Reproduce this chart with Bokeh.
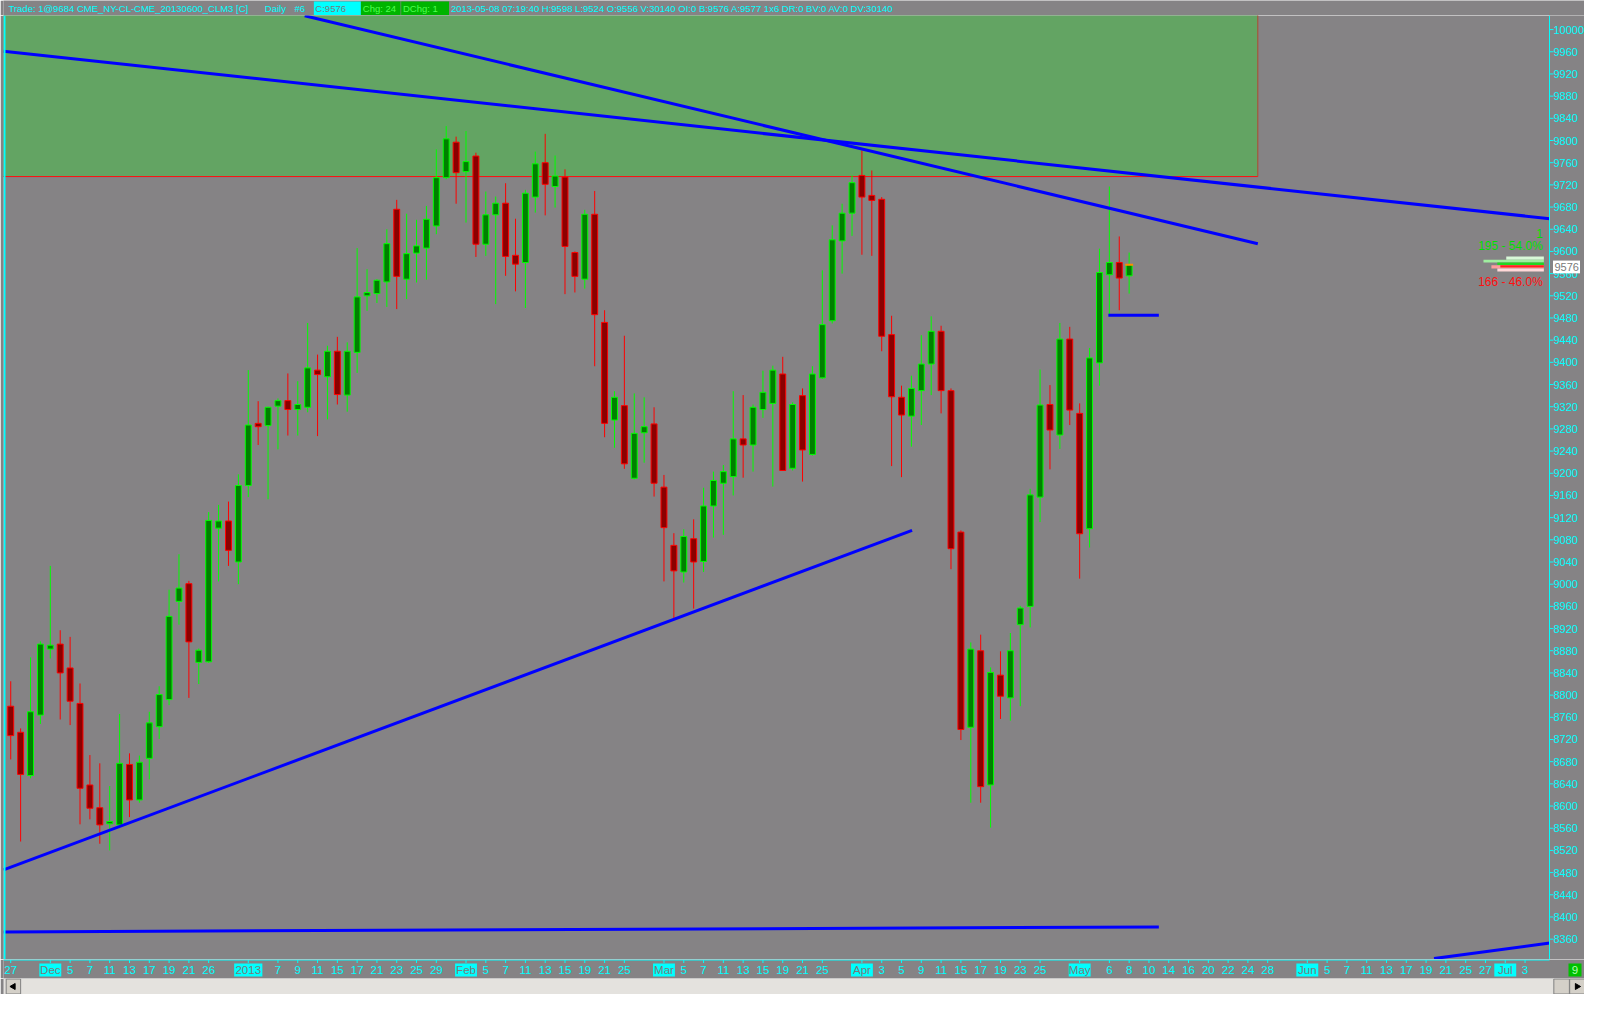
import math

from bokeh.core.properties import value
from bokeh.embed import file_html
from bokeh.layouts import column
from bokeh.models import ColumnDataSource, Range1d, Span
from bokeh.plotting import figure
from bokeh.resources import INLINE

# --- daily bars, CLM3, 2012-11-27 .. 2013-05-08 (index = trading day) ---
opens = [8780, 8733, 8655, 8764, 8883, 8892, 8849, 8785, 8638, 8597,
         8568, 8566, 8675, 8611, 8686, 8743, 8792, 8969, 9001, 8859,
         8860, 9101, 9114, 9040, 9178, 9290, 9286, 9321, 9331, 9315,
         9319, 9386, 9374, 9420, 9341, 9418, 9520, 9524, 9545, 9676,
         9550, 9597, 9606, 9646, 9733, 9797, 9744, 9772, 9613, 9666,
         9687, 9593, 9580, 9698, 9760, 9717, 9734, 9598, 9550, 9667,
         9472, 9296, 9322, 9191, 9273, 9289, 9175, 9070, 9022, 9082,
         9041, 9141, 9182, 9194, 9262, 9251, 9315, 9326, 9379, 9209,
         9340, 9234, 9372, 9475, 9619, 9669, 9737, 9701, 9694, 9450,
         9337, 9303, 9349, 9397, 9456, 9349, 9094, 8742, 8880, 8638,
         8836, 8795, 8927, 8960, 9157, 9324, 9269, 9442, 9308, 9100,
         9399, 9558, 9580, 9556]
highs = [8825, 8740, 8868, 8897, 9033, 8917, 8905, 8821, 8692, 8677,
         8636, 8766, 8695, 8691, 8770, 8816, 8990, 9054, 9006, 8884,
         9130, 9143, 9149, 9198, 9386, 9330, 9320, 9335, 9380, 9366,
         9471, 9414, 9430, 9446, 9436, 9606, 9568, 9550, 9640, 9693,
         9668, 9657, 9682, 9784, 9826, 9807, 9817, 9778, 9708, 9699,
         9723, 9659, 9711, 9780, 9812, 9773, 9748, 9600, 9675, 9709,
         9494, 9348, 9448, 9344, 9337, 9319, 9197, 9092, 9099, 9117,
         9174, 9203, 9215, 9348, 9341, 9324, 9385, 9394, 9410, 9328,
         9353, 9393, 9566, 9647, 9686, 9737, 9782, 9746, 9698, 9484,
         9358, 9376, 9449, 9483, 9466, 9353, 9097, 8895, 8909, 8850,
         8879, 8912, 8961, 9172, 9387, 9359, 9471, 9464, 9326, 9426,
         9605, 9717, 9627, 9598]
lows = [8684, 8536, 8650, 8748, 8866, 8756, 8746, 8567, 8576, 8532,
        8520, 8560, 8580, 8606, 8648, 8721, 8782, 8927, 8795, 8820,
        8858, 9005, 9033, 9000, 9157, 9251, 9153, 9243, 9268, 9268,
        9310, 9267, 9297, 9324, 9311, 9381, 9493, 9507, 9500, 9496,
        9514, 9544, 9549, 9631, 9730, 9686, 9652, 9590, 9592, 9505,
        9556, 9528, 9498, 9670, 9665, 9679, 9523, 9526, 9533, 9393,
        9265, 9246, 9208, 9189, 9219, 9158, 9005, 8937, 9003, 8956,
        9022, 9084, 9089, 9160, 9192, 9203, 9300, 9176, 9205, 9205,
        9185, 9232, 9370, 9470, 9560, 9628, 9594, 9592, 9420, 9213,
        9193, 9248, 9287, 9341, 9308, 9027, 8719, 8606, 8606, 8561,
        8757, 8754, 8780, 8922, 9112, 9207, 9244, 9287, 9010, 9066,
        9358, 9485, 9494, 9524]
closes = [8727, 8657, 8770, 8892, 8890, 8840, 8789, 8632, 8596, 8566,
          8572, 8677, 8611, 8679, 8750, 8801, 8942, 8993, 8896, 8881,
          9115, 9114, 9061, 9178, 9287, 9284, 9319, 9331, 9315, 9324,
          9390, 9378, 9420, 9342, 9420, 9518, 9526, 9548, 9614, 9555,
          9596, 9610, 9658, 9733, 9803, 9742, 9762, 9613, 9666, 9687,
          9591, 9577, 9705, 9758, 9721, 9736, 9609, 9555, 9667, 9486,
          9290, 9337, 9217, 9272, 9284, 9182, 9102, 9024, 9086, 9040,
          9141, 9187, 9203, 9262, 9251, 9319, 9346, 9386, 9205, 9324,
          9242, 9379, 9468, 9621, 9669, 9724, 9698, 9692, 9447, 9338,
          9305, 9353, 9397, 9456, 9349, 9064, 8738, 8883, 8635, 8841,
          8798, 8880, 8957, 9161, 9323, 9278, 9442, 9314, 9091, 9408,
          9562, 9580, 9552, 9576]

# date axis labels (bar index -> text), future days included
tick_pos = [0, 4, 6, 8, 10, 12, 14, 16, 18, 20, 24, 27, 29, 31, 33, 35, 37, 39, 41, 43,
            46, 48, 50, 52, 54, 56, 58, 60, 62, 66, 68, 70, 72, 74, 76, 78, 80, 82,
            86, 88, 90, 92, 94, 96, 98, 100, 102, 104, 108, 111, 113, 115, 117, 119,
            121, 123, 125, 127, 131, 133, 135, 137, 139, 141, 143, 145, 147, 149, 151, 153]
tick_text = ["27", "Dec", "5", "7", "11", "13", "17", "19", "21", "26",
             "2013", "7", "9", "11", "15", "17", "21", "23", "25", "29",
             "Feb", "5", "7", "11", "13", "15", "19", "21", "25",
             "Mar", "5", "7", "11", "13", "15", "19", "21", "25",
             "Apr", "3", "5", "9", "11", "15", "17", "19", "23", "25",
             "May", "6", "8", "10", "14", "16", "20", "22", "24", "28",
             "Jun", "5", "7", "11", "13", "17", "19", "21", "25", "27", "Jul", "3"]
month_labels = ["Dec", "2013", "Feb", "Mar", "Apr", "May", "Jun", "Jul"]
price_ticks = list(range(8360, 10001, 40))

# drawings: supply zone and trend lines (bar index, price)
zone_left, zone_right, zone_bottom, zone_top = -1.0, 126.0, 9735, 10100
line_x0 = [-0.73, 29.7, -0.73, 110.9, -0.73, 143.8]
line_y0 = [9961, 10025, 8485, 9485, 8373, 8325]
line_x1 = [155.5, 126.0, 91.07, 116.0, 116.0, 155.5]
line_y1 = [9659, 9614, 9097, 9485, 8382, 8353]

# bid/ask split at the right edge
split_text = ["1", "195 - 54.0%", "166 - 46.0%"]
split_price = [9633, 9610, 9544]
split_color = ["#00e000", "#00e000", "#ff1010"]
prof_left = [151.1, 148.8, 150.2, 149.6, 150.5, 150.2]
prof_top = [9591, 9585, 9580, 9575, 9575, 9569]
prof_bottom = [9585, 9580, 9575, 9569, 9571, 9564]
prof_color = ["#d8f8d8", "#a0eea0", "#20d820", "#ff9c9c", "#ff2020", "#ffd8d8"]
prof_right = 154.9
last_close = closes[-1]

header_left = "Trade: 1@9684 CME_NY-CL-CME_20130600_CLM3 [C]"
header_boxes = ["C:9576", "Chg: 24", "DChg: 1"]
header_right = ("2013-05-08 07:19:40 H:9598 L:9524 O:9556 V:30140 OI:0 B:9576 "
                "A:9577 1x6 DR:0 BV:0 AV:0 DV:30140")

BG = "#858385"
CYAN = "#00ffff"
FONT = "Liberation Sans"
W = 1584
LEFT = 3          # px left of the frame
AXIS = 35         # px kept for the price scale on the right
X0, X1 = -0.73, 155.47
bar_px = (W - LEFT - AXIS) / (X1 - X0)
XR = X0 + (W - LEFT) / bar_px     # right end of the (extended) x range
Y0, Y1 = 8323.3, 10025.4


def strip(height, x_range, y_range, left=0):
    f = figure(frame_width=W - left, frame_height=height, x_range=x_range,
               y_range=y_range, x_axis_location=None, y_axis_location=None,
               toolbar_location=None, output_backend="svg",
               background_fill_color=BG, border_fill_color=BG, outline_line_color=None,
               min_border_left=left, min_border_right=0, min_border_top=0,
               min_border_bottom=0)
    f.grid.visible = False
    return f


# header line
hdr = strip(15, Range1d(0, 1600), Range1d(0, 15))
hdr.quad(left=[313.5, 361, 401.7], right=[361, 401, 450], bottom=0.5, top=14,
         fill_color=[CYAN, "#00b400", "#00b400"], line_color=None)
hdr.text(x=[5, 264, 294], y=7.2, text=[header_left, "Daily", "#6"],
         text_font=value(FONT), text_font_size="9.5px", text_color=CYAN,
         text_baseline="middle")
hdr.text(x=[315, 363, 403.5], y=7.2, text=header_boxes, text_font=value(FONT),
         text_font_size="9.5px", text_color=["#7a7a7a", "#50ff50", "#50ff50"],
         text_baseline="middle")
hdr.text(x=[452], y=7.2, text=[header_right], text_font=value(FONT),
         text_font_size="9.5px", text_color=CYAN, text_baseline="middle")

# price chart (frame runs under the price scale too)
p = strip(944, Range1d(X0, XR), Range1d(Y0, Y1), LEFT)

p.quad(left=[zone_left], right=[zone_right], bottom=[zone_bottom], top=[zone_top],
       fill_color="#63a463", line_color=None)
p.segment(x0=[zone_left], y0=[zone_bottom], x1=[zone_right], y1=[zone_bottom],
          line_color="#ff1010", line_width=1)
p.segment(x0=[zone_right], y0=[zone_bottom], x1=[zone_right], y1=[zone_top],
          line_color="#b04a30", line_width=1)

up = [c >= o for o, c in zip(opens, closes)]
src = ColumnDataSource(dict(
    x=list(range(len(opens))), h=highs, l=lows,
    top=[max(o, c) for o, c in zip(opens, closes)],
    bottom=[min(o, c) for o, c in zip(opens, closes)],
    edge=["#00ff00" if u else "#ff0000" for u in up],
    fill=["#008000" if u else "#8b0000" for u in up],
))
p.segment(x0="x", y0="h", x1="x", y1="l", line_color="edge", line_width=1, source=src)
p.vbar(x="x", width=0.6, top="top", bottom="bottom", fill_color="fill",
       line_color="edge", line_width=1, source=src)
n = len(closes) - 1
p.segment(x0=[n - 0.4], y0=[last_close], x1=[n + 0.4], y1=[last_close],
          line_color="#ff8c00", line_width=2)

# trend lines stop at the price scale
p.segment(x0=line_x0, y0=line_y0, x1=line_x1, y1=line_y1, line_color="#0000ff",
          line_width=3)
p.quad(left=[X1], right=[XR], bottom=[Y0], top=[Y1], fill_color=BG, line_color=None)

p.quad(left=prof_left, right=prof_right, top=prof_top, bottom=prof_bottom,
       fill_color=prof_color, line_color=None)
p.text(x=154.8, y=split_price, text=split_text, text_align="right",
       text_baseline="middle", text_color=split_color, text_font=value(FONT),
       text_font_size="12px")

p.add_layout(Span(location=X0 + 0.1, dimension="height", line_color=CYAN, line_width=2))

# price scale
p.add_layout(Span(location=X1, dimension="height", line_color=CYAN, line_width=1))
p.segment(x0=X1, y0=price_ticks, x1=X1 + 4 / bar_px, y1=price_ticks,
          line_color=CYAN, line_width=1)
p.text(x=X1 + 4 / bar_px, y=price_ticks, text=[str(t) for t in price_ticks],
       text_baseline="middle", text_color=CYAN, text_font=value(FONT),
       text_font_size="11px")
p.rect(x=[X1 + 17 / bar_px], y=[last_close - 4], width=27 / bar_px, height=23,
       fill_color="white", line_color=None)
p.text(x=[X1 + 5 / bar_px], y=[last_close - 4], text=[str(last_close)],
       text_baseline="middle", text_color="#7a7a7a", text_font=value(FONT),
       text_font_size="11px")

# date axis
ax = strip(19, Range1d(X0, XR), Range1d(0, 19), LEFT)
ax.segment(x0=[X0], y0=[18.5], x1=[X1], y1=[18.5], line_color=CYAN, line_width=1)
ax.segment(x0=tick_pos, y0=18.5, x1=tick_pos, y1=15.5, line_color=CYAN, line_width=1)
is_month = [t in month_labels for t in tick_text]
mx = [x for x, m in zip(tick_pos, is_month) if m]
mw = [(len(t) * 6.3 + 3) / bar_px for t, m in zip(tick_text, is_month) if m]
ax.rect(x=mx, y=8.5, width=mw, height=13, fill_color=CYAN, line_color=None)
ax.text(x=tick_pos, y=8.5, text=tick_text, text_align="center", text_baseline="middle",
        text_color=["#7a7a7a" if m else CYAN for m in is_month],
        text_font=value(FONT), text_font_size="11.5px")
nine_x = XR - 9.5 / bar_px
ax.rect(x=[nine_x], y=[8.5], width=13 / bar_px, height=13, fill_color="#00c000",
        line_color=None)
ax.text(x=[nine_x], y=[8.5], text=["9"], text_align="center", text_baseline="middle",
        text_color="#b0ffb0", text_font=value(FONT), text_font_size="11.5px")

# scroll bar
scr = strip(16, Range1d(0, 1600), Range1d(0, 16))
scr.quad(left=[0], right=[1600], bottom=[0], top=[16], fill_color="#e4e2de", line_color=None)
scr.quad(left=[2.7, 1566, 1582], right=[17.3, 1581.7, 1597], bottom=0.5, top=15.5,
         fill_color="#d4d0c8", line_color="#808080", line_width=1)
scr.scatter(x=[10, 1589.5], y=[8, 8], marker="triangle", size=6,
            angle=[math.pi / 2, -math.pi / 2], fill_color="black", line_color="black")

layout = column(hdr, p, ax, scr)
open("out.html", "w").write(file_html(layout, INLINE, title="CLM3 Daily"))
